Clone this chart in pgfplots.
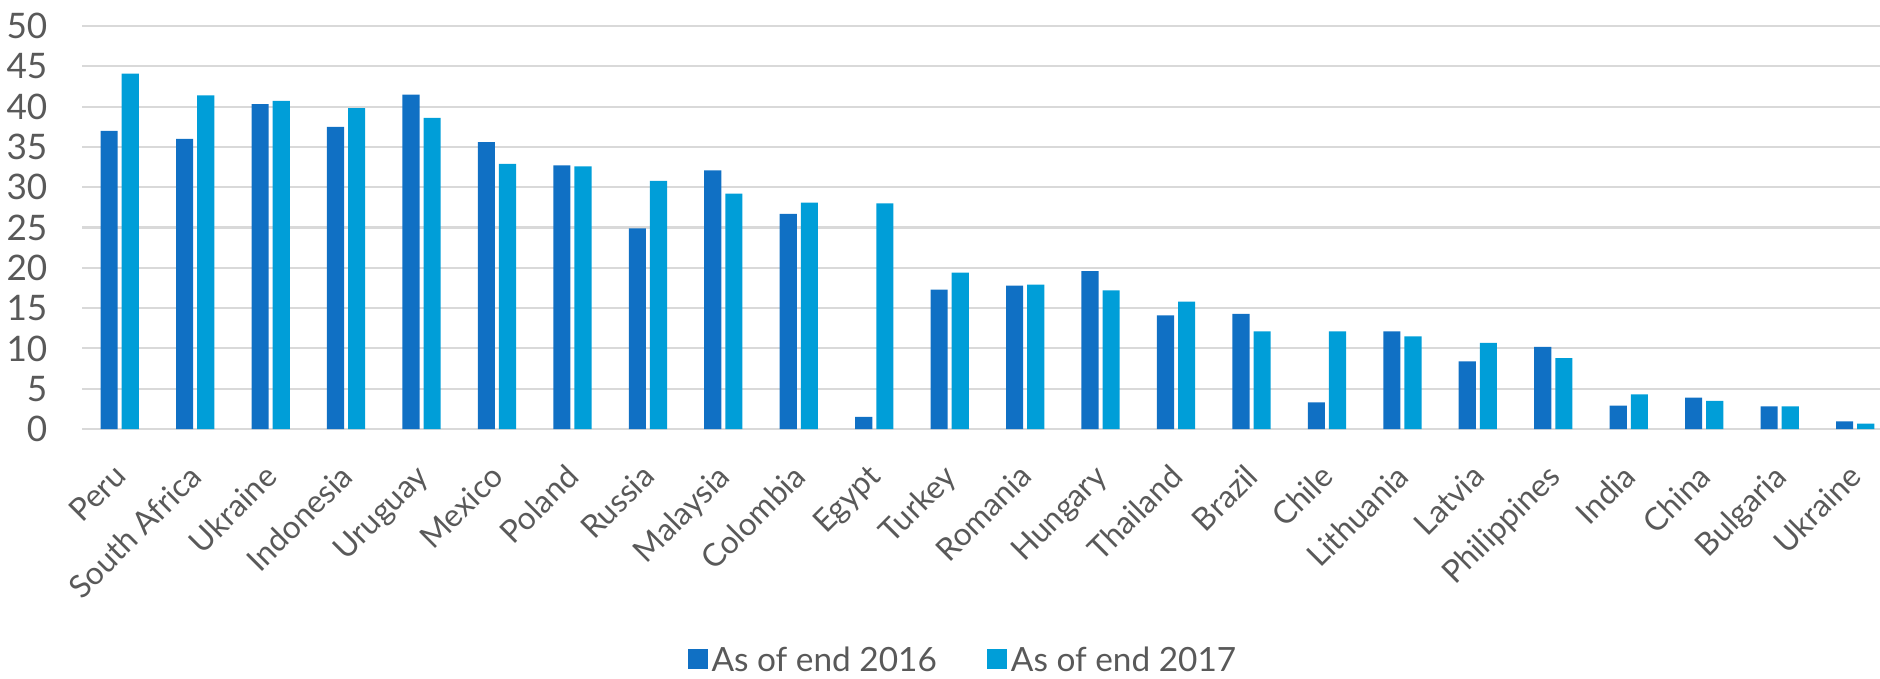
\documentclass[border=0pt]{standalone}
\usepackage{fontspec}
\setmainfont{Lato}
\usepackage{pgfplots}
\usepackage{pgfplotstable}
\pgfplotsset{compat=1.18}

\definecolor{bar16}{RGB}{16,112,196}
\definecolor{bar17}{RGB}{0,158,216}
\definecolor{labelgrey}{RGB}{89,89,89}
\definecolor{gridgrey}{RGB}{217,217,217}

% Values per country, end 2016 and end 2017
\pgfplotstableread{
idx v2016 v2017
0  37.0 44.1
1  36.0 41.4
2  40.3 40.7
3  37.5 39.8
4  41.5 38.6
5  35.6 32.9
6  32.7 32.6
7  24.9 30.8
8  32.1 29.2
9  26.7 28.1
10 1.5  28.0
11 17.3 19.4
12 17.8 17.9
13 19.6 17.2
14 14.1 15.8
15 14.3 12.1
16 3.3  12.1
17 12.1 11.5
18 8.4  10.7
19 10.2 8.8
20 2.9  4.3
21 3.9  3.5
22 2.8  2.8
23 0.95 0.66
}\datatable

\begin{document}
\begin{tikzpicture}[font=\fontsize{10}{12}\selectfont]
\begin{axis}[
  at={(0,0)}, anchor=south west,
  scale only axis,
  width=179.8mm, height=40.3mm,
  xmin=-0.5, xmax=23.33,
  ymin=0, ymax=50,
  ytick={0,5,...,50},
  xtick={0,...,23},
  xticklabels={Peru,South Africa,Ukraine,Indonesia,Uruguay,Mexico,Poland,Russia,Malaysia,Colombia,Egypt,Turkey,Romania,Hungary,Thailand,Brazil,Chile,Lithuania,Latvia,Philippines,India,China,Bulgaria,Ukraine},
  /pgf/number format/assume math mode=true,
  major tick length=0pt,
  axis line style={draw=none},
  ymajorgrids,
  grid style={gridgrey, line width=0.6pt},
  tick label style={text=labelgrey},
  yticklabel style={anchor=east, inner sep=0pt, xshift=-3.4mm, font=\fontsize{10}{12}\selectfont},
  % shift in the page frame first, then turn the label
  xticklabel style={xshift=-0.8mm, yshift=-3.25mm, rotate=45, anchor=north east, inner sep=0pt, font=\fontsize{9}{11}\selectfont},
  ybar,
  bar width=0.227,
  legend style={at={(0.4905,-0.578)}, anchor=center, draw=none, fill=none,
    legend columns=2, text=labelgrey, font=\fontsize{9.5}{11}\selectfont,
    nodes={inner sep=0.4mm},
    /tikz/every even column/.append style={column sep=4.6mm}},
  legend image code/.code={\fill[#1] (0mm,-0.2em) rectangle (2mm,-0.2em+2mm);},
  clip=false,
]
\addplot[fill=bar16, draw=none, bar shift=-0.14] table[x=idx, y=v2016] {\datatable};
\addlegendentry{As of end 2016}
\addplot[fill=bar17, draw=none, bar shift=0.14] table[x=idx, y=v2017] {\datatable};
\addlegendentry{As of end 2017}
\end{axis}
\pgfresetboundingbox
\path[use as bounding box] (-8.2mm,-24.9mm) rectangle (179.8mm,42.9mm);
\end{tikzpicture}
\end{document}
